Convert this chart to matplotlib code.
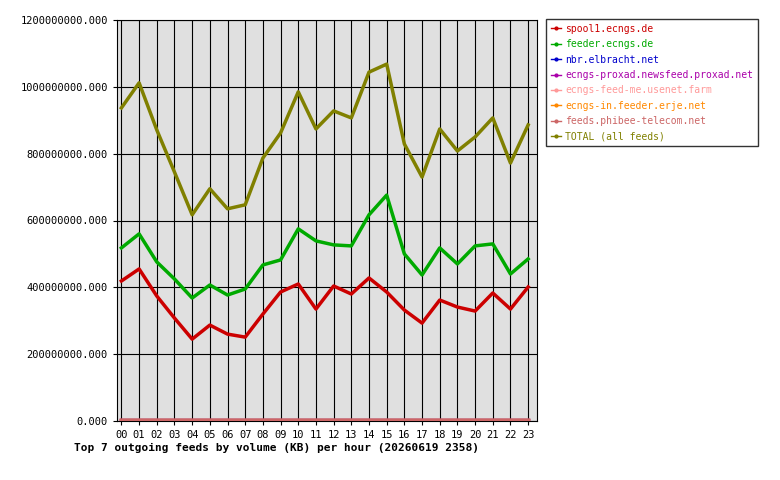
import matplotlib
matplotlib.use("Agg")
import matplotlib.pyplot as plt

hours = ["%02d" % h for h in range(24)]
spool1 = [419, 455, 374, 308, 245, 287, 260, 251, 320, 386, 410, 335,
          404, 380, 428, 386, 332, 293, 362, 341, 329, 383, 335, 401]
feeder = [518, 560, 476, 425, 368, 407, 377, 395, 467, 482, 575, 539,
          527, 524, 617, 676, 500, 437, 518, 470, 524, 530, 440, 485]
total = [937, 1012, 871, 745, 617, 695, 635, 647, 787, 862, 985, 874,
         928, 907, 1044, 1068, 829, 730, 874, 808, 850, 907, 772, 886]
small = [2] * 24

series = [
    ("spool1.ecngs.de", [v * 1e6 for v in spool1], "#cc0000"),
    ("feeder.ecngs.de", [v * 1e6 for v in feeder], "#00aa00"),
    ("nbr.elbracht.net", [v * 1e6 for v in small], "#0000cc"),
    ("ecngs-proxad.newsfeed.proxad.net", [v * 1e6 for v in small], "#aa00aa"),
    ("ecngs-feed-me.usenet.farm", [v * 1e6 for v in small], "#ff9999"),
    ("ecngs-in.feeder.erje.net", [v * 1e6 for v in small], "#ff8800"),
    ("feeds.phibee-telecom.net", [v * 1e6 for v in small], "#cc6666"),
    ("TOTAL (all feeds)", [v * 1e6 for v in total], "#808000"),
]

plt.rcParams['font.family'] = ['DejaVu Sans Mono']
fig = plt.figure(figsize=(7.8, 4.8), dpi=100)
ax = fig.add_axes([117 / 780, 59 / 480, 420 / 780, 401 / 480])
ax.set_facecolor("#e0e0e0")
x = list(range(24))
handles = []
for name, vals, col in series:
    ax.plot(x, vals, color=col, lw=2.5, zorder=3)
    h, = plt.plot([], [], color=col, lw=1, marker="o", ms=2)
    handles.append(h)

ax.set_xlim(-0.25, 23.5)
ax.set_ylim(0, 1.2e9)
ax.set_xticks(x)
ax.set_xticklabels(hours, fontsize=7.5)
yt = [i * 2e8 for i in range(7)]
ax.set_yticks(yt)
ax.set_yticklabels(["%d.000" % v if v else "0.000" for v in yt], fontsize=7.5)
ax.grid(True, color="black", lw=0.8)
ax.tick_params(length=3)
ax.set_xlabel("Top 7 outgoing feeds by volume (KB) per hour (20260619 2358)",
              fontsize=8, fontweight="bold", x=0.38, labelpad=2)

leg = fig.legend(handles, [s[0] for s in series], loc="upper left",
                 bbox_to_anchor=(546 / 780, 1 - 19 / 480), fontsize=7,
                 frameon=True, fancybox=False, edgecolor="black",
                 handlelength=1.0, handletextpad=0.5, labelspacing=0.55,
                 borderaxespad=0, borderpad=0.5)
for t, s in zip(leg.get_texts(), series):
    t.set_color(s[2])

fig.savefig("out.png", dpi=100)
